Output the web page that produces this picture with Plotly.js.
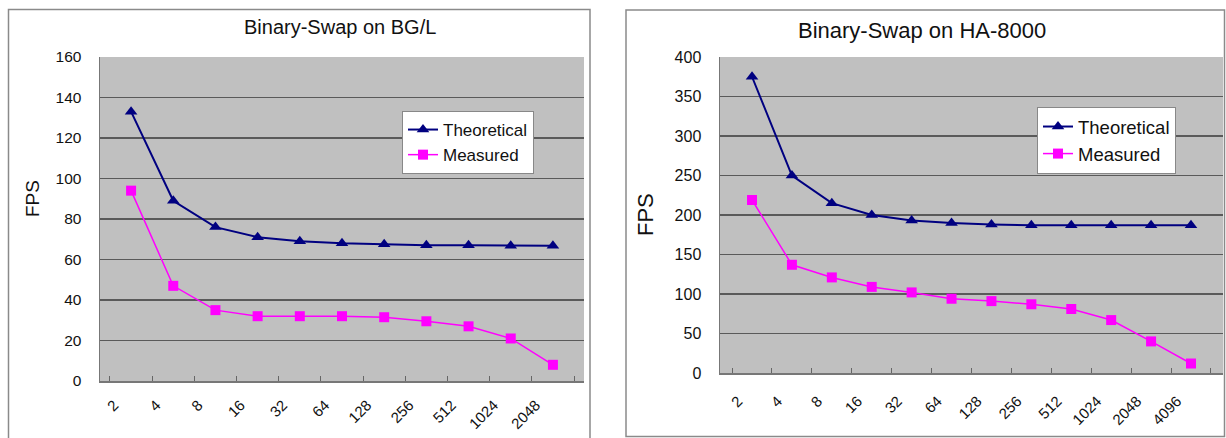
<!DOCTYPE html>
<html>
<head>
<meta charset="utf-8">
<script src="https://cdn.plot.ly/plotly-3.0.1.min.js"></script>
<style>
html,body{margin:0;padding:0;background:#fff;}
#chart{width:1226px;height:438px;}
</style>
</head>
<body>
<div id="chart"></div>
<script>
// ---- data ----
const bglCategories = ["2","4","8","16","32","64","128","256","512","1024","2048"];
const bglTheoretical = [133, 89, 76, 71, 69, 68, 67.5, 67, 67, 66.8, 66.8];
const bglMeasured = [94, 47, 35, 32, 32, 32, 31.5, 29.5, 27, 21, 8];

const haCategories = ["2","4","8","16","32","64","128","256","512","1024","2048","4096"];
const haTheoretical = [375, 250, 215, 200, 193, 190, 188, 187, 187, 187, 187, 187];
const haMeasured = [219, 137, 121, 109, 102, 94, 91, 87, 81, 67, 40, 12];

const seriesNames = ["Theoretical", "Measured"];
const chartTitles = ["Binary-Swap on BG/L", "Binary-Swap on HA-8000"];
const yTitle = "FPS";

// ---- layout helpers ----
const W = 1226, H = 438;
const px = v => v / W;
const py = v => (H - v) / H;
const FONT = "Liberation Sans, Arial, sans-serif";
const NAVY = "#000080", MAGENTA = "#FF00FF";

const traces = [
  {x: bglCategories, y: bglTheoretical, name: seriesNames[0], xaxis: "x", yaxis: "y", legend: "legend",
   mode: "lines+markers", line: {color: NAVY, width: 2}, marker: {symbol: "triangle-up", size: 11, color: NAVY}},
  {x: bglCategories, y: bglMeasured, name: seriesNames[1], xaxis: "x", yaxis: "y", legend: "legend",
   mode: "lines+markers", line: {color: MAGENTA, width: 1.5}, marker: {symbol: "square", size: 10, color: MAGENTA}},
  {x: haCategories, y: haTheoretical, name: seriesNames[0], xaxis: "x2", yaxis: "y2", legend: "legend2",
   mode: "lines+markers", line: {color: NAVY, width: 2}, marker: {symbol: "triangle-up", size: 11, color: NAVY}},
  {x: haCategories, y: haMeasured, name: seriesNames[1], xaxis: "x2", yaxis: "y2", legend: "legend2",
   mode: "lines+markers", line: {color: MAGENTA, width: 1.5}, marker: {symbol: "square", size: 10, color: MAGENTA}}
];

const xCommon = {
  type: "category", tickangle: -45, tickson: "boundaries", ticks: "inside", ticklen: 5,
  tickcolor: "#666", showline: true, linecolor: "#777", linewidth: 1.5, showgrid: false,
  zeroline: false,
  tickfont: {family: FONT, size: 15, color: "#111"}, fixedrange: true
};
const yCommon = {
  showline: true, linecolor: "#777", linewidth: 1.5, showgrid: true, gridcolor: "#5a5a5a", gridwidth: 1.2,
  zeroline: false, ticks: "", ticklabelstandoff: 14, fixedrange: true
};

const layout = {
  width: W, height: H,
  margin: {l: 0, r: 0, t: 0, b: 0},
  paper_bgcolor: "#ffffff",
  plot_bgcolor: "#C0C0C0",
  font: {family: FONT, color: "#111"},
  xaxis: Object.assign({}, xCommon, {domain: [px(100), px(584)], anchor: "y", ticklabelshift: -17, ticklabelstandoff: 8}),
  yaxis: Object.assign({}, yCommon, {domain: [py(381), py(57)], anchor: "x", range: [0, 160], dtick: 20,
    tickfont: {family: FONT, size: 15.5, color: "#111"}}),
  xaxis2: Object.assign({}, xCommon, {domain: [px(720), px(1223)], anchor: "y2", ticklabelshift: -14, ticklabelstandoff: 12}),
  yaxis2: Object.assign({}, yCommon, {domain: [py(373), py(57)], anchor: "x2", range: [0, 400], dtick: 50,
    tickfont: {family: FONT, size: 16, color: "#111"}}),
  legend: {x: px(402), y: py(111), xanchor: "left", yanchor: "top", bgcolor: "#fff",
    bordercolor: "#888", borderwidth: 1, font: {family: FONT, size: 17, color: "#111"},
    itemwidth: 30, tracegroupgap: 0},
  legend2: {x: px(1037), y: py(107), xanchor: "left", yanchor: "top", bgcolor: "#fff",
    bordercolor: "#888", borderwidth: 1, font: {family: FONT, size: 18.5, color: "#111"},
    itemwidth: 30, tracegroupgap: 0},
  annotations: [
    {text: chartTitles[0], xref: "paper", yref: "paper", x: px(340), y: py(27), xanchor: "center", yanchor: "middle",
     showarrow: false, font: {family: FONT, size: 20, color: "#111"}},
    {text: chartTitles[1], xref: "paper", yref: "paper", x: px(922), y: py(30), xanchor: "center", yanchor: "middle",
     showarrow: false, font: {family: FONT, size: 22, color: "#111"}},
    {text: yTitle, xref: "paper", yref: "paper", x: px(32), y: py(199), xanchor: "center", yanchor: "middle",
     textangle: -90, showarrow: false, font: {family: FONT, size: 19, color: "#111"}},
    {text: yTitle, xref: "paper", yref: "paper", x: px(645), y: py(215), xanchor: "center", yanchor: "middle",
     textangle: -90, showarrow: false, font: {family: FONT, size: 22, color: "#111"}}
  ],
  shapes: [
    {type: "rect", xref: "paper", yref: "paper", x0: px(8.5), x1: px(590), y0: py(445), y1: py(9.5),
     line: {color: "#8a8a8a", width: 1.5}, layer: "below"},
    {type: "rect", xref: "paper", yref: "paper", x0: px(626), x1: px(1224.5), y0: py(436.5), y1: py(10),
     line: {color: "#8a8a8a", width: 1.5}, layer: "below"}
  ],
  showlegend: true
};

Plotly.newPlot("chart", traces, layout, {displayModeBar: false, staticPlot: true});
</script>
</body>
</html>
